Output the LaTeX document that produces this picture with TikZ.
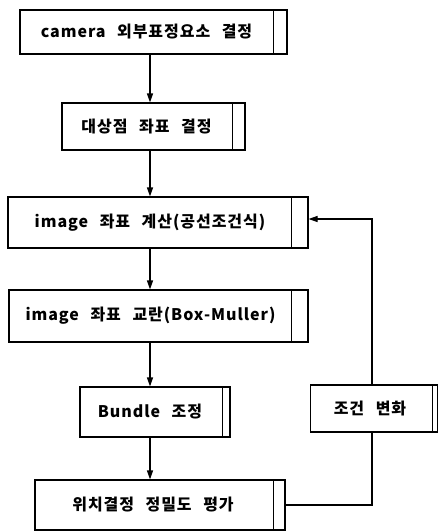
\documentclass[tikz,border=0pt]{standalone}
\usepackage{fontspec}
\setmainfont{Noto Sans CJK KR}
\newfontfamily\boxfont[LetterSpace=6,WordSpace=2.5]{Noto Sans CJK KR}
\usetikzlibrary{arrows.meta}
\begin{document}
\begin{tikzpicture}[x=1pt,y=-1pt,
  panel/.style={draw,line width=1.1pt,rectangle,inner sep=0pt,font=\boxfont\fontsize{16}{18}\selectfont\bfseries},
  arr/.style={line width=1.1pt,-{Triangle[length=9pt,width=6pt]}},
  link/.style={line width=1.1pt}]
\useasboundingbox (0,0) rectangle (439,531);
\node[panel,minimum width=267pt,minimum height=44pt] (b1) at (153.5,32) {\hspace*{-14pt}camera 외부표정요소 결정};
\node[panel,minimum width=183pt,minimum height=47pt] (b2) at (153.5,126.5) {\hspace*{-14pt}대상점 좌표 결정};
\node[panel,minimum width=300pt,minimum height=51pt] (b3) at (158,222.5) {\hspace*{-16pt}image 좌표 계산(공선조건식)};
\node[panel,minimum width=299pt,minimum height=52pt] (b4) at (158.5,316) {\hspace*{-16pt}image 좌표 교란(Box-Muller)};
\node[panel,minimum width=150pt,minimum height=50pt] (b5) at (155,412) {\hspace*{-10pt}Bundle 조정};
\node[panel,minimum width=250pt,minimum height=50pt] (b6) at (160,505) {\hspace*{-14pt}위치결정 정밀도 평가};
\node[panel,minimum width=127pt,minimum height=47pt] (b7) at (374,408.5) {\hspace*{-8pt}조건 변화};
\foreach \n/\d in {b1/14,b2/13,b3/17,b4/17,b5/8,b6/12,b7/6}{
  \draw[link] ([xshift=-\d pt]\n.north east) -- ([xshift=-\d pt]\n.south east);
}
\coordinate (ax) at (150,0);
\draw[arr] (b1.south -| ax) -- (b2.north -| ax);
\draw[arr] (b2.south -| ax) -- (b3.north -| ax);
\draw[arr] (b3.south -| ax) -- (b4.north -| ax);
\draw[arr] (b4.south -| ax) -- (b5.north -| ax);
\draw[arr] (b5.south -| ax) -- (b6.north -| ax);
\coordinate (fx) at (372,219);
\draw[link] (b6.east) -| (b7.south -| fx);
\draw[arr] (b7.north -| fx) -- (fx) -- (fx -| b3.east);
\end{tikzpicture}
\end{document}
